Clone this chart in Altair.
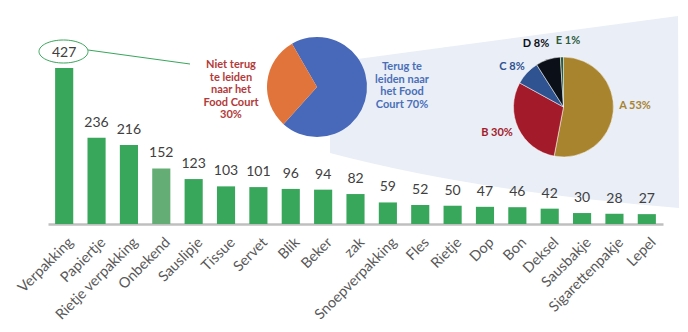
import altair as alt
import pandas as pd

# ---- data ----
categories = ["Verpakking", "Papiertje", "Rietje verpakking", "Onbekend", "Sauslipje",
              "Tissue", "Servet", "Blik", "Beker", "zak", "Snoepverpakking", "Fles",
              "Rietje", "Dop", "Bon", "Deksel", "Sausbakje", "Sigarettenpakje", "Lepel"]
counts = [427, 236, 216, 152, 123, 103, 101, 96, 94, 82, 59, 52, 50, 47, 46, 42, 30, 28, 27]
highlight = ["Onbekend"]

pie1_labels = ["Terug te leiden naar het Food Court", "Niet terug te leiden naar het Food Court"]
pie1_values = [70, 30]

pie2_labels = ["A", "B", "C", "D", "E"]
pie2_values = [53, 30, 8, 8, 1]

FONT = "Lato"
GREEN = "#38a65b"
GREEN_LIGHT = "#64ad74"

bars_df = pd.DataFrame({
    "cat": categories,
    "n": counts,
    "kind": ["light" if c in highlight else "normal" for c in categories],
})
pie1_df = pd.DataFrame({"lab": pie1_labels, "v": pie1_values, "ord": [0, 1]})
pie2_df = pd.DataFrame({"lab": pie2_labels, "v": pie2_values, "ord": list(range(5))})
one = pd.DataFrame({"a": [0]})

# ---- background cone (decoration) ----
cone_path = "M350,60 L678,16 L679,208 Q475.5,191.5 330,153 L330,110 Z"
cone = alt.Chart(one).mark_point(
    shape=cone_path, size=4, filled=True, fill="#e9eef7", strokeWidth=0, opacity=1
).encode(x=alt.value(0), y=alt.value(0))

# ---- bars ----
xenc = alt.X("cat:N", sort=categories, title=None,
             scale=alt.Scale(range=[48, 663], paddingInner=0.44, paddingOuter=0.22),
             axis=alt.Axis(labelAngle=-45, labelFontSize=14.5, labelColor="#595959",
                           labelFont=FONT, ticks=False, domainColor="#bfbfbf",
                           domainWidth=2.5, labelPadding=11, labelOffset=2, offset=-108,
                           labelOverlap=False, grid=False))
yenc = alt.Y("n:Q", scale=alt.Scale(domain=[0, 427], range=[224, 68], nice=False, zero=True),
             axis=None)

bars = alt.Chart(bars_df).mark_bar().encode(
    x=xenc, y=yenc,
    color=alt.Color("kind:N", scale=alt.Scale(domain=["normal", "light"],
                                              range=[GREEN, GREEN_LIGHT]), legend=None),
)
bar_text = alt.Chart(bars_df).mark_text(
    dy=-15, baseline="middle", fontSize=14, font=FONT, color="#404040"
).encode(x=alt.X("cat:N", sort=categories), y="n:Q", text="n:Q")

bar_layer = alt.layer(bars, bar_text)

# ---- ellipse + connector ----
ellipse = alt.Chart(one).mark_point(
    shape="M-24.5,0 A24.5,11.5 0 1,0 24.5,0 A24.5,11.5 0 1,0 -24.5,0 Z",
    size=4, filled=False, stroke=GREEN, strokeWidth=1, opacity=1
).encode(x=alt.value(63.5), y=alt.value(51.5))
connector = alt.Chart(one).mark_rule(color=GREEN, strokeWidth=1).encode(
    x=alt.value(88), y=alt.value(50), x2=alt.value(190), y2=alt.value(64))

# ---- pie 1 ----
pie1 = alt.Chart(pie1_df).mark_arc(radius=50).encode(
    theta=alt.Theta("v:Q", stack=True, scale=alt.Scale(range=[5.7596, 12.0428])),
    order=alt.Order("ord:Q"),
    color=alt.Color("lab:N", scale=alt.Scale(domain=pie1_labels,
                                             range=["#4868ba", "#e0743a"]), legend=None),
    x=alt.value(317), y=alt.value(87),
)

# ---- pie 2 ----
pie2 = alt.Chart(pie2_df).mark_arc(radius=50, stroke="white", strokeWidth=0.5).encode(
    theta=alt.Theta("v:Q", stack=True, scale=alt.Scale(range=[0, 6.2832])),
    order=alt.Order("ord:Q"),
    color=alt.Color("lab:N", scale=alt.Scale(domain=pie2_labels,
                                             range=["#a8842f", "#a31b2a", "#2f5290",
                                                    "#0b0f17", "#2d5b3b"]), legend=None),
    x=alt.value(563.5), y=alt.value(107),
)

def label(text, x, y, color, size=11):
    return alt.Chart(one).mark_text(
        text=text, font=FONT, fontSize=size, fontWeight="bold", color=color,
        align="center", baseline="middle", lineHeight=12.6
    ).encode(x=alt.value(x), y=alt.value(y))

lab_niet = label(["Niet terug", "te leiden", "naar het", "Food Court", "30%"], 231, 65, "#b33a3a")
lab_terug = label(["Terug te", "leiden naar", "het Food", "Court 70%"], 402, 67, "#4a6fb8")
lab_a = label(f"A {pie2_values[0]}%", 635, 106, "#a8842f")
lab_b = label(f"B {pie2_values[1]}%", 497, 133, "#a31b2a")
lab_c = label(f"C {pie2_values[2]}%", 512, 67, "#2f5290")
lab_d = label(f"D {pie2_values[3]}%", 536, 44, "#0b0f17")
lab_e = label(f"E {pie2_values[4]}%", 568, 41, "#2d5b3b")

chart = alt.layer(
    cone, bar_layer, ellipse, connector, pie1, pie2,
    lab_niet, lab_terug, lab_a, lab_b, lab_c, lab_d, lab_e
).resolve_scale(
    x="independent", y="independent", color="independent", theta="independent"
).properties(
    width=688, height=332, padding=0, autosize=alt.AutoSizeParams(type="none"),
    background="white"
).configure_view(stroke=None)

chart.save("out.html", embed_options={"renderer": "svg", "actions": False})
